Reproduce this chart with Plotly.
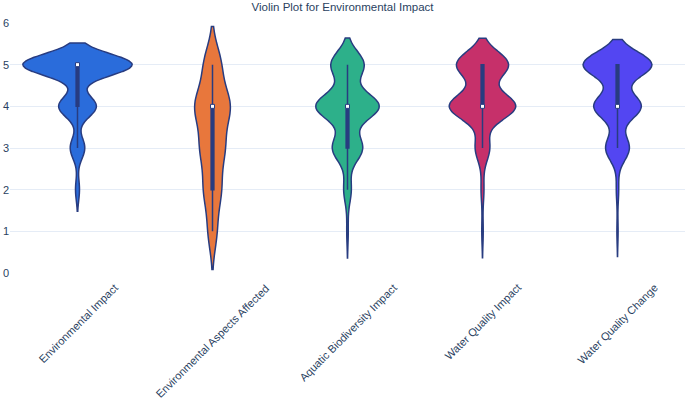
import numpy as np
import plotly.graph_objects as go

# ---- data (response counts per score level 1..5) ----
categories = [
    "Environmental Impact",
    "Environmental Aspects Affected",
    "Aquatic Biodiversity Impact",
    "Water Quality Impact",
    "Water Quality Change",
]
levels = [1, 2, 3, 4, 5]
env_impact_counts = [0, 6, 22, 57, 165]
aspects_affected_counts = [14, 27, 37, 55, 27]
aquatic_biodiversity_counts = [1, 5, 20, 42, 22]
water_quality_impact_counts = [1, 2, 10, 46, 36]
water_quality_change_counts = [1, 2, 20, 40, 58]
y_ticks = [0, 1, 2, 3, 4, 5, 6]

all_counts = [
    env_impact_counts,
    aspects_affected_counts,
    aquatic_biodiversity_counts,
    water_quality_impact_counts,
    water_quality_change_counts,
]

# ---- styles ----
fill_colors = ["#2a6cdb", "#e8773c", "#2db08a", "#c6306a", "#5346f2"]
outline = "#283c80"
font_color = "#2a3f5f"

fig = go.Figure()
for name, counts, col in zip(categories, all_counts, fill_colors):
    vals = np.repeat(levels, counts)
    fig.add_trace(go.Violin(
        x=[name] * len(vals),
        y=vals,
        name=name,
        fillcolor=col,
        opacity=1,
        line=dict(color=outline, width=1.5),
        box=dict(visible=True, width=0.025, fillcolor=outline,
                 line=dict(color=outline, width=1.5)),
        meanline=dict(visible=False),
        points=False,
        scalegroup="all",
        scalemode="width",
        spanmode="soft",
        showlegend=False,
        hoverinfo="skip",
    ))

for name, counts in zip(categories, all_counts):
    vals = np.repeat(levels, counts)
    fig.add_trace(go.Scatter(
        x=[name], y=[float(np.median(vals))],
        mode="markers",
        marker=dict(symbol="square", size=4, color="white",
                    line=dict(color=outline, width=1)),
        showlegend=False, hoverinfo="skip",
    ))

# category labels: rotated, centred under each category
for name in categories:
    fig.add_annotation(
        x=name, y=0, xref="x", yref="y",
        text=name, textangle=-45, showarrow=False,
        xanchor="center", yanchor="top", yshift=-6,
        font=dict(size=11, color=font_color),
    )

fig.update_layout(
    template="plotly_white",
    width=685, height=399,
    margin=dict(l=10, r=0, t=23, b=126),
    font=dict(family="Liberation Sans, Arial, sans-serif", size=11, color=font_color),
    title=dict(text="Violin Plot for Environmental Impact", x=0.5, xanchor="center",
               y=1 - 7 / 399, yanchor="middle", yref="container",
               font=dict(size=11.5, color=font_color)),
    violinmode="overlay",
    violingap=0.19,
    violingroupgap=0,
    showlegend=False,
)
fig.update_xaxes(showticklabels=False, showgrid=False, automargin=False,
                 categoryorder="array", categoryarray=categories)
fig.update_yaxes(range=[0, 6], tickvals=y_ticks, showgrid=True, gridcolor="#E5ECF6",
                 zeroline=False, automargin=False)

fig.write_html("out.html", config={"displayModeBar": False},
               post_script="document.body.style.margin='0';")
